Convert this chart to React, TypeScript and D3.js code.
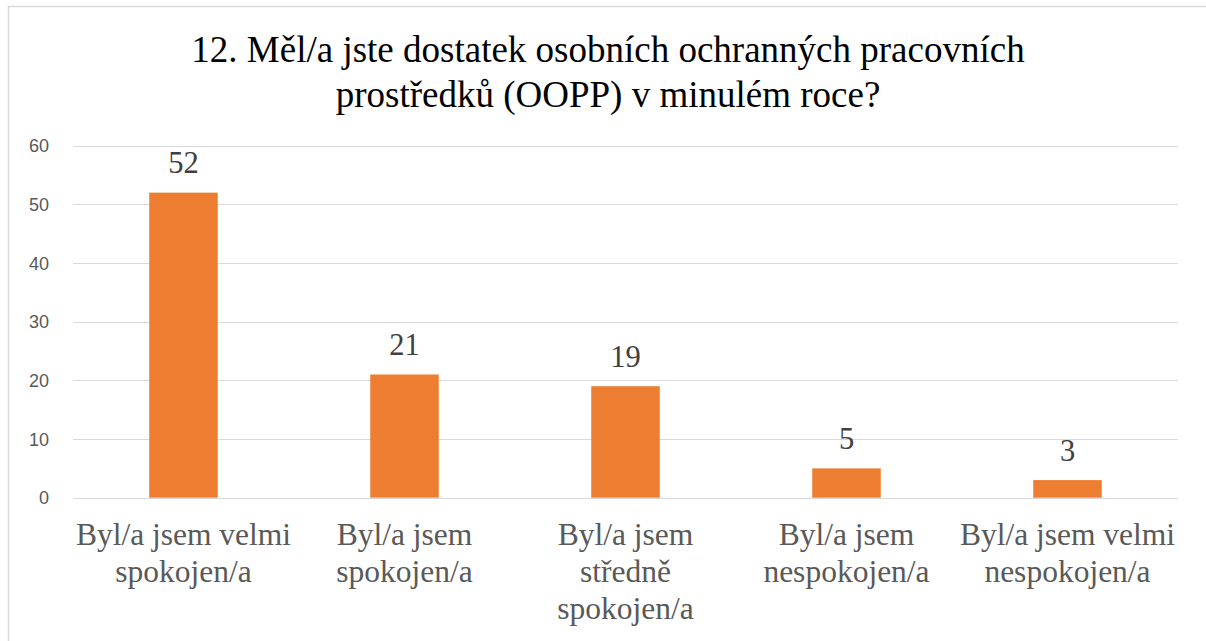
import React from 'react';
import * as d3 from 'd3';

const categories = [
  ['Byl/a jsem velmi', 'spokojen/a'],
  ['Byl/a jsem', 'spokojen/a'],
  ['Byl/a jsem', 'středně', 'spokojen/a'],
  ['Byl/a jsem', 'nespokojen/a'],
  ['Byl/a jsem velmi', 'nespokojen/a'],
];
const values = [52, 21, 19, 5, 3];
const yTicks = [0, 10, 20, 30, 40, 50, 60];
const titleLines = [
  '12. Měl/a jste dostatek osobních ochranných pracovních',
  'prostředků (OOPP) v minulém roce?',
];

const W = 1206;
const H = 641;
const serifFont = 'Liberation Serif';
const sansFont = 'Liberation Sans';

export default function App() {
  const x = d3.scaleBand<number>()
    .domain(d3.range(values.length))
    .range([73, 1178])
    .paddingInner(0.69)
    .paddingOuter(0.345);

  const y = d3.scaleLinear()
    .domain([0, 60])
    .range([497.7, 145.7]);

  return (
    <div style={{ position: 'absolute', left: 0, top: 0, width: W, height: H, background: '#fff' }}>
      <svg width={W} height={H} style={{ display: 'block' }}>
        {/* chart frame */}
        <rect x={8.5} y={6.5} width={W} height={H} fill="none" stroke="#d9d9d9" strokeWidth={1.5} />

        {titleLines.map((t, i) => (
          <text key={i} x={608} y={62 + i * 45} textAnchor="middle"
            style={{ fontFamily: serifFont, fontSize: '37px' }} fill="#000">{t}</text>
        ))}

        {/* gridlines */}
        {yTicks.map(t => (
          <line key={'g' + t} x1={73} x2={1178} y1={Math.round(y(t)) + 0.5} y2={Math.round(y(t)) + 0.5}
            stroke="#d9d9d9" strokeWidth={1.2} />
        ))}
        {yTicks.map(t => (
          <text key={'t' + t} x={49} y={y(t) + 6.5} textAnchor="end"
            style={{ fontFamily: sansFont, fontSize: '18px' }} fill="#595959">{t}</text>
        ))}

        {/* bars */}
        {values.map((v, i) => (
          <rect key={'b' + i} x={x(i)} y={y(v)} width={x.bandwidth()} height={y(0) - y(v)} fill="#ED7D31" />
        ))}
        {values.map((v, i) => (
          <text key={'l' + i} x={x(i)! + x.bandwidth() / 2} y={y(v) - 19.5} textAnchor="middle"
            style={{ fontFamily: serifFont, fontSize: '30.5px' }} fill="#404040">{v}</text>
        ))}

        {/* category labels */}
        {categories.map((lines, i) =>
          lines.map((l, j) => (
            <text key={'c' + i + j} x={x(i)! + x.bandwidth() / 2} y={545 + j * 37} textAnchor="middle"
              style={{ fontFamily: serifFont, fontSize: '31.5px' }} fill="#595959">{l}</text>
          ))
        )}
      </svg>
    </div>
  );
}
